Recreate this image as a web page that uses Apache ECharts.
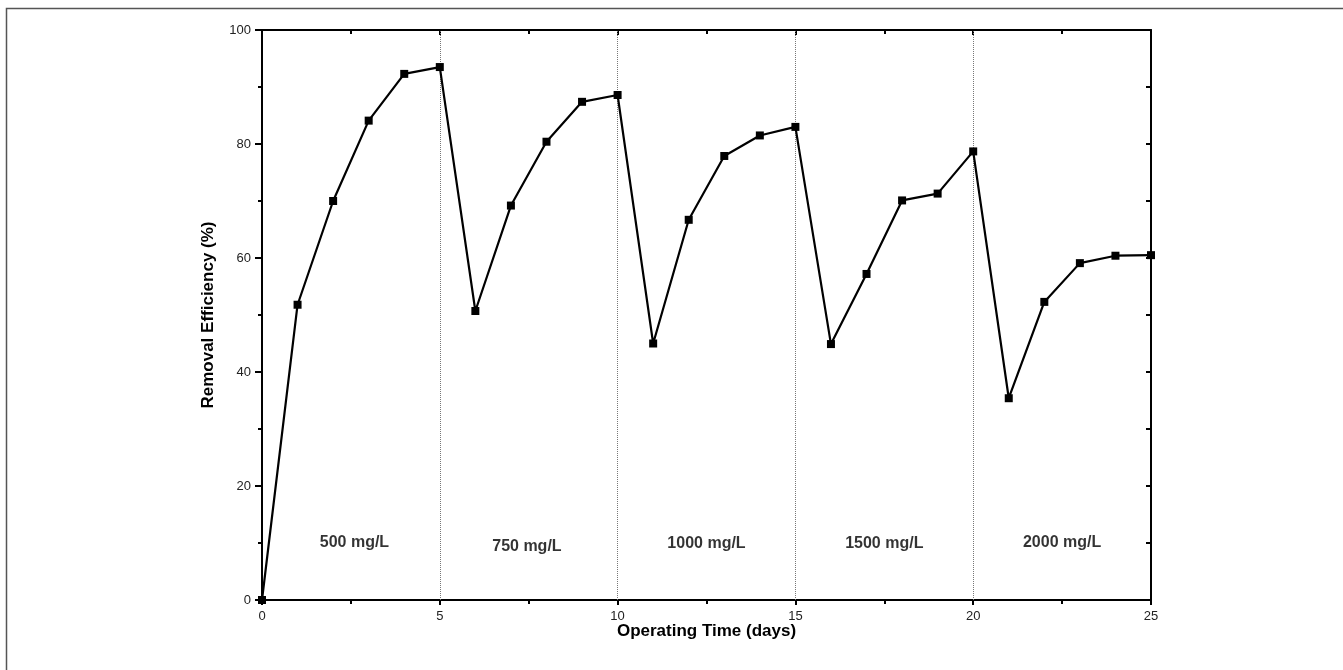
<!DOCTYPE html>
<html>
<head>
<meta charset="utf-8">
<script src="https://cdn.jsdelivr.net/npm/echarts@6/dist/echarts.min.js"></script>
<style>
html,body{margin:0;padding:0;background:#fff;}
#chart{width:1343px;height:670px;}
</style>
</head>
<body>
<div id="chart"></div>
<script>
// Data
const days = [0,1,2,3,4,5,6,7,8,9,10,11,12,13,14,15,16,17,18,19,20,21,22,23,24,25];
const efficiency = [0,51.8,70.0,84.1,92.3,93.5,50.7,69.2,80.4,87.4,88.6,45.0,66.7,77.9,81.5,83.0,44.9,57.2,70.1,71.3,78.7,35.4,52.3,59.1,60.4,60.5];
const dividers = [5,10,15,20];
const concLabels = ['500 mg/L','750 mg/L','1000 mg/L','1500 mg/L','2000 mg/L'];
const concLabelX = [2.6,7.45,12.5,17.5,22.5];
const concLabelY = [10.0,9.4,9.9,9.9,10.0];
const xTitle = 'Operating Time (days)';
const yTitle = 'Removal Efficiency (%)';

const FONT = 'Liberation Sans, Arial, sans-serif';
const chart = echarts.init(document.getElementById('chart'));

const axisLine = {show:true, onZero:false, lineStyle:{color:'#000', width:2}};

chart.setOption({
  animation:false,
  backgroundColor:'#fff',
  graphic:[{
    type:'rect', silent:true,
    shape:{x:6.5, y:8.5, width:1400, height:700},
    style:{fill:'none', stroke:'#555', lineWidth:1.5}
  }],
  grid:{left:262, right:192, top:30, bottom:70},
  xAxis:[{
    type:'value', position:'bottom', min:0, max:25, interval:5,
    axisLine:axisLine,
    axisTick:{show:true, inside:false, length:5, lineStyle:{color:'#000', width:2}},
    minorTick:{show:true, splitNumber:2, length:4, lineStyle:{color:'#000', width:2}},
    splitLine:{show:false},
    axisLabel:{color:'#222', fontSize:13, fontFamily:FONT, margin:10},
    name:xTitle, nameLocation:'middle', nameGap:23, nameMoveOverlap:false,
    nameTextStyle:{color:'#000', fontSize:17, fontWeight:'bold', fontFamily:FONT}
  },{
    type:'value', position:'top', min:0, max:25, interval:5,
    axisLine:axisLine,
    axisTick:{show:true, inside:true, length:5, lineStyle:{color:'#000', width:2}},
    minorTick:{show:true, splitNumber:2, length:4, lineStyle:{color:'#000', width:2}},
    splitLine:{show:false},
    axisLabel:{show:false}
  }],
  yAxis:[{
    type:'value', position:'left', min:0, max:100, interval:20,
    axisLine:axisLine,
    axisTick:{show:true, inside:false, length:7, lineStyle:{color:'#000', width:2}},
    minorTick:{show:true, splitNumber:2, length:4, lineStyle:{color:'#000', width:2}},
    splitLine:{show:false},
    axisLabel:{color:'#222', fontSize:13, fontFamily:FONT, margin:11},
    name:yTitle, nameLocation:'middle', nameGap:45, nameMoveOverlap:false,
    nameTextStyle:{color:'#000', fontSize:17, fontWeight:'bold', fontFamily:FONT}
  },{
    type:'value', position:'right', min:0, max:100, interval:20,
    axisLine:axisLine,
    axisTick:{show:true, inside:true, length:5, lineStyle:{color:'#000', width:2}},
    minorTick:{show:true, splitNumber:2, length:5, lineStyle:{color:'#000', width:2}},
    splitLine:{show:false},
    axisLabel:{show:false}
  }],
  series:[{
    type:'line',
    xAxisIndex:0, yAxisIndex:0,
    data: days.map((d,i)=>[d, efficiency[i]]),
    symbol:'rect', symbolSize:8,
    lineStyle:{color:'#000', width:2.2},
    itemStyle:{color:'#000'},
    z:5,
    markLine:{
      silent:true, symbol:['none','none'],
      label:{show:false},
      lineStyle:{color:'#777', type:'dotted', width:1},
      data: dividers.map(v=>({xAxis:v}))
    }
  },{
    type:'scatter',
    xAxisIndex:0, yAxisIndex:0,
    symbolSize:0,
    data: concLabels.map((n,i)=>({name:n, value:[concLabelX[i], concLabelY[i]]})),
    label:{show:true, position:'inside', formatter:p=>p.name,
      color:'#000', fontSize:16, fontWeight:'bold', fontFamily:FONT},
    silent:true
  }]
});
</script>
</body>
</html>
